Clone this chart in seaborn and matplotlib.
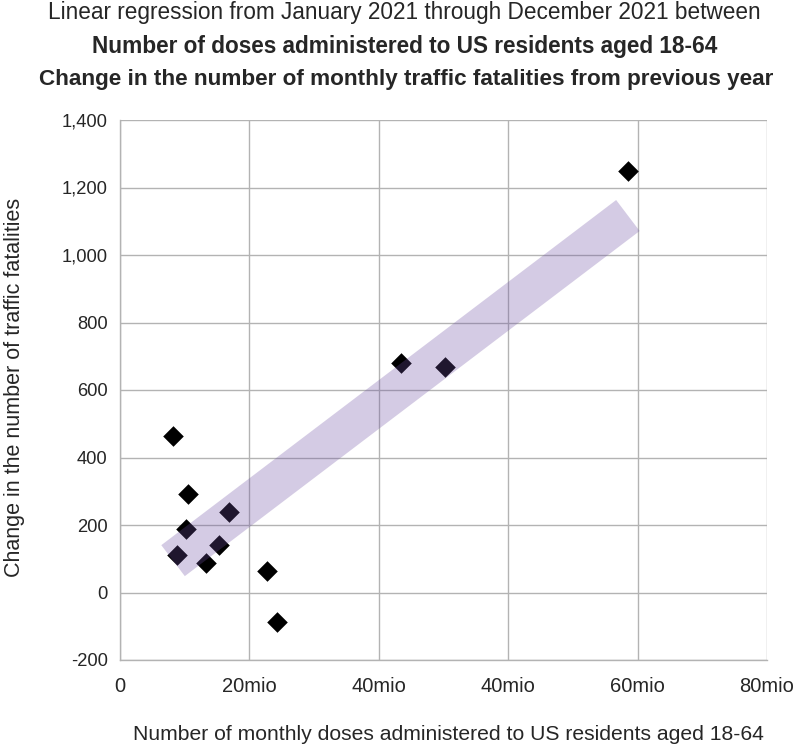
import numpy as np
import pandas as pd
import matplotlib
matplotlib.use("Agg")
import matplotlib.pyplot as plt
import seaborn as sns
from matplotlib import font_manager

# Data (x in "mio" doses on the chart's own axis scale, y = change in fatalities)
doses = [8.2, 8.8, 10.5, 10.2, 13.3, 15.3, 16.8, 22.7, 24.3, 43.4, 50.2, 78.5]
fatality_change = [464, 112, 292, 188, 87, 142, 238, 65, -88, 680, 667, 1250]
x_ticks = [0, 20, 40, 60, 80, 100]
x_tick_labels = ["0", "20mio", "40mio", "40mio", "60mio", "80mio"]
y_ticks = [-200, 0, 200, 400, 600, 800, 1000, 1200, 1400]

title_lines = [
    "Linear regression from January 2021 through December 2021 between",
    "Number of doses administered to US residents aged 18-64",
    "Change in the number of monthly traffic fatalities from previous year",
]
x_label = "Number of monthly doses administered to US residents aged 18-64"
y_label = "Change in the number of traffic fatalities"

names = {f.name for f in font_manager.fontManager.ttflist}
narrow = "Liberation Sans Narrow" if "Liberation Sans Narrow" in names else "Liberation Sans"

sns.set_style("white")
plt.rcParams["font.family"] = ["Liberation Sans", "DejaVu Sans"]

df = pd.DataFrame({"doses": doses, "change": fatality_change})

fig = plt.figure(figsize=(7.95, 7.5), dpi=100)
ax = fig.add_axes([120 / 795, 1 - 660 / 750, (767 - 120) / 795, (660 - 120) / 750])

sns.regplot(
    data=df, x="doses", y="change", ax=ax, ci=None, truncate=True,
    marker="D",
    scatter_kws=dict(color="black", s=110, linewidths=0, zorder=3, alpha=1),
    line_kws=dict(color="#6e4fa2", alpha=0.29, linewidth=28,
                  solid_capstyle="butt", zorder=4),
)

ax.set_xlim(0, 100)
ax.set_ylim(-200, 1400)
ax.set_xticks(x_ticks)
ax.set_xticklabels(x_tick_labels, fontsize=14.5, family=narrow)
ax.set_yticks(y_ticks)
ax.set_yticklabels([f"{v:,}" for v in y_ticks], fontsize=13.2)
ax.grid(True, color="#b3b3b3", linewidth=1)
ax.set_axisbelow(True)
for side in ["top", "right"]:
    ax.spines[side].set_visible(False)
for side in ["left", "bottom"]:
    ax.spines[side].set_color("#b3b3b3")
    ax.spines[side].set_linewidth(1)
ax.tick_params(axis="both", length=5, color="#b3b3b3", width=1, pad=4)
ax.tick_params(axis="x", pad=7)

ax.set_xlabel("")
ax.set_ylabel("")
fig.text(448 / 795, 1 - 734 / 750, x_label, ha="center", va="center",
         fontsize=15.2, family=narrow)
fig.text(15 / 795, 1 - 387 / 750, y_label, ha="center", va="center",
         rotation=90, fontsize=15.5)

fig.text(404 / 795, 1 - 13 / 750, title_lines[0], ha="center", va="center",
         fontsize=16.3, family=narrow)
fig.text(405 / 795, 1 - 46 / 750, title_lines[1], ha="center", va="center",
         fontsize=16.3, family=narrow, fontweight="bold")
fig.text(406 / 795, 1 - 79 / 750, title_lines[2], ha="center", va="center",
         fontsize=16.2, family=narrow, fontweight="bold")

fig.savefig("out.png", dpi=100)
